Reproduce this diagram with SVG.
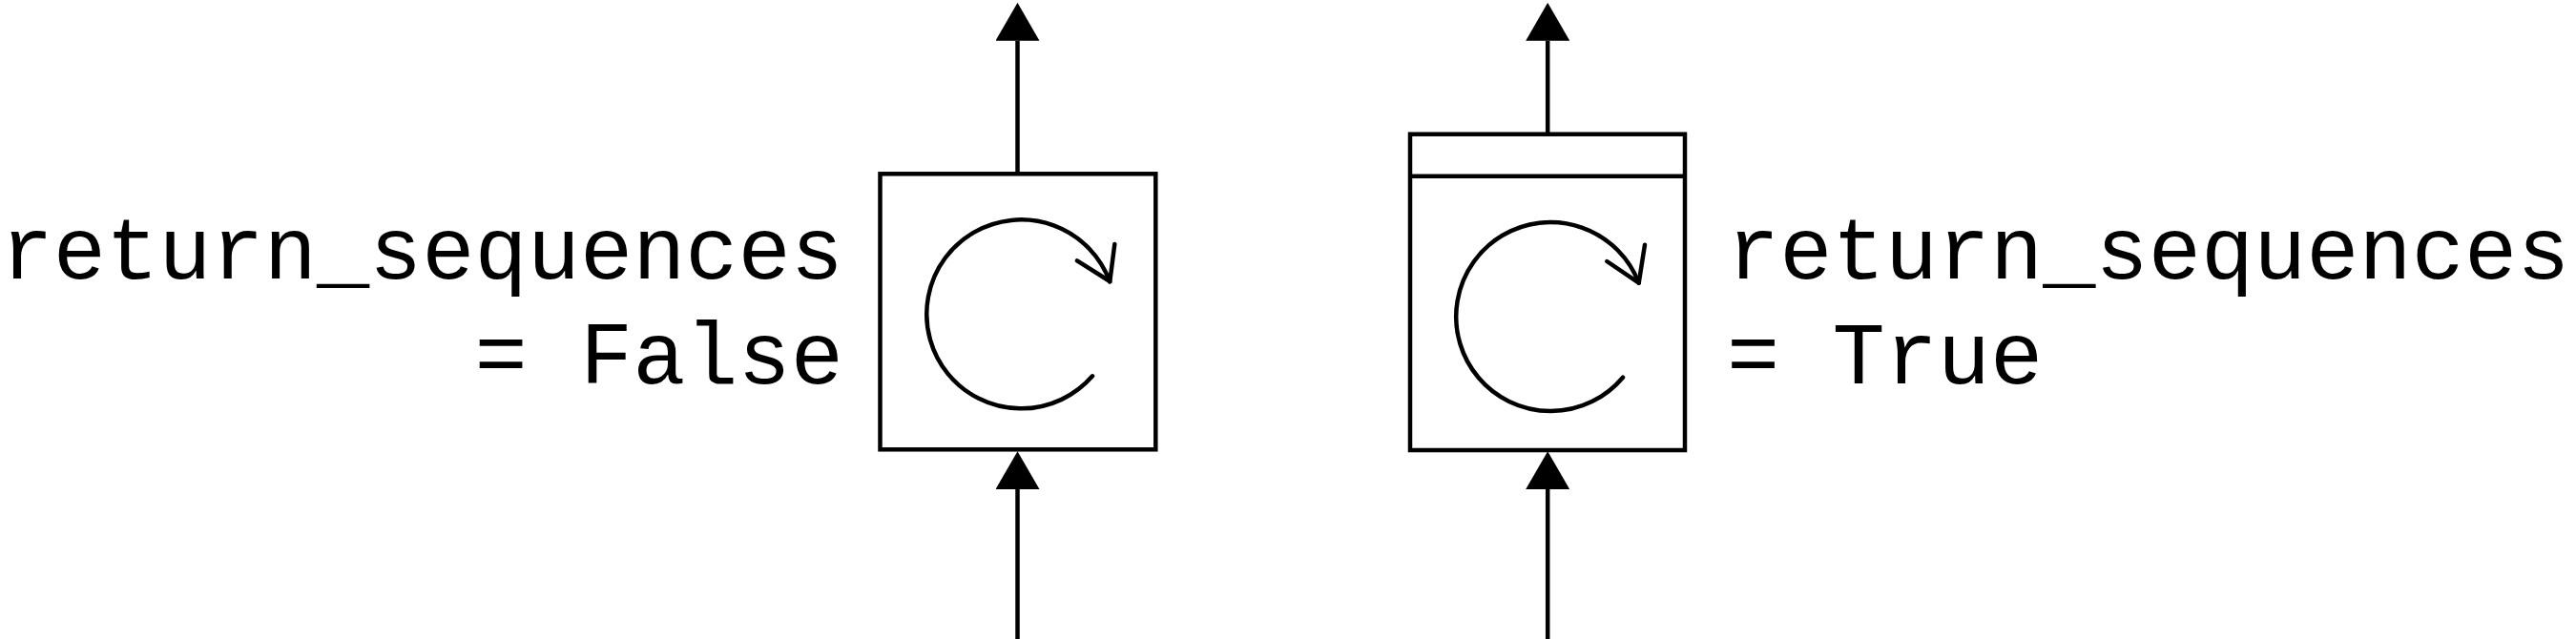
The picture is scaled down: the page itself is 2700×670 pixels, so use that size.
<svg xmlns="http://www.w3.org/2000/svg" width="2700" height="670" viewBox="0 0 2700 670">
  <style>
    .box { fill: #ffffff; stroke: #000000; stroke-width: 4.5; }
    .div { fill: none; stroke: #000000; stroke-width: 4.5; }
    .loop { fill: none; stroke: #000000; stroke-width: 4.5; stroke-linecap: round; stroke-linejoin: round; }
    .conn { fill: none; stroke: #000000; stroke-width: 4.5; }
    .lbl { font-family: "Liberation Mono", "Courier New", monospace; font-size: 92px; fill: #000000; }
  </style>
  <defs>
    <marker id="head" markerUnits="userSpaceOnUse" markerWidth="40" markerHeight="46" refX="0" refY="22.5" orient="auto" viewBox="0 0 39 45">
      <path d="M0,0 L39,22.5 L0,45 z" fill="#000000"/>
    </marker>
  </defs>

  <g id="connectors">
    <line class="conn" x1="1066.5" y1="182" x2="1066.5" y2="42.7" marker-end="url(#head)"/>
    <line class="conn" x1="1066.5" y1="670" x2="1066.5" y2="513" marker-end="url(#head)"/>
    <line class="conn" x1="1622.2" y1="140.7" x2="1622.2" y2="42.7" marker-end="url(#head)"/>
    <line class="conn" x1="1622.2" y1="670" x2="1622.2" y2="513" marker-end="url(#head)"/>
  </g>

  <g id="rnn-false">
    <rect class="box" x="922.5" y="182.3" width="288.8" height="289"/>
    <path class="loop" d="M1163.3,295.5 A99,99 0 1 0 1145,394.3"/>
    <path class="loop" d="M1168.3,256 L1163.3,295 L1129,273.3"/>
  </g>

  <g id="rnn-true">
    <rect class="box" x="1478" y="140.7" width="288" height="331.3"/>
    <line class="div" x1="1478" y1="184.7" x2="1766" y2="184.7"/>
    <path class="loop" d="M1717.7,296.7 A99,99 0 1 0 1701,395.7"/>
    <path class="loop" d="M1724,256.7 L1717.7,296.7 L1684.3,274"/>
  </g>

  <g id="label-false">
    <text class="lbl" x="884" y="292" text-anchor="end">return_sequences</text>
    <text class="lbl" x="884" y="402" text-anchor="end">= False</text>
  </g>

  <g id="label-true">
    <text class="lbl" x="1810" y="292">return_sequences</text>
    <text class="lbl" x="1810" y="402">= True</text>
  </g>
</svg>
